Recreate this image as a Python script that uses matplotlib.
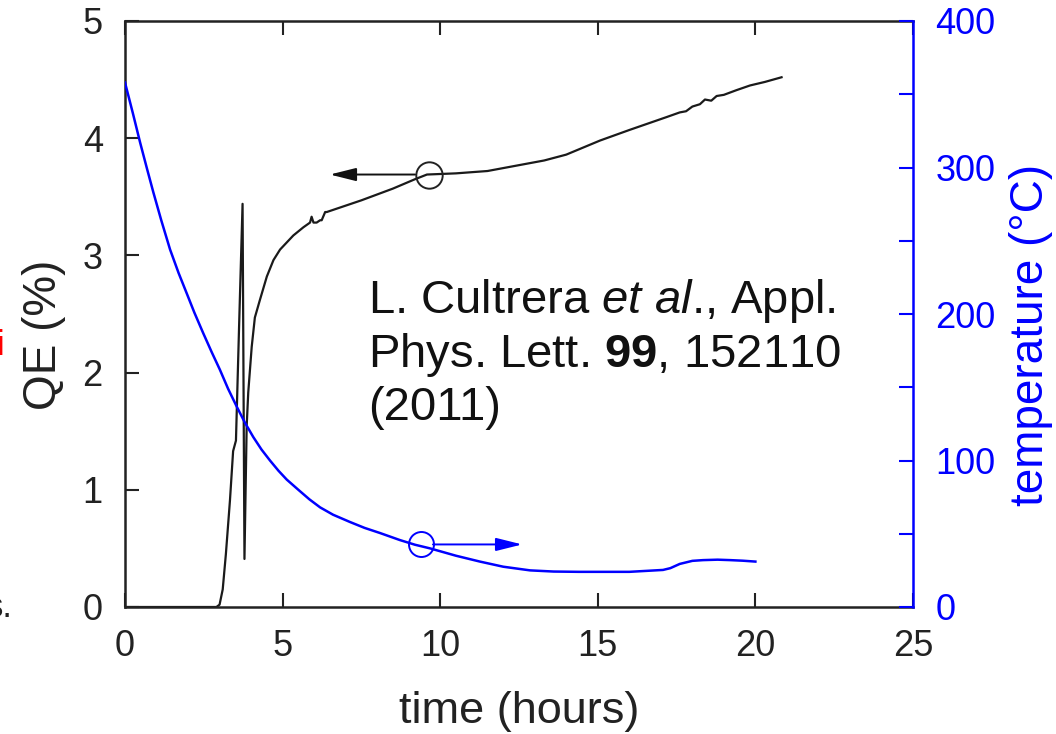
import matplotlib
matplotlib.use("Agg")
import matplotlib.pyplot as plt

plt.rcParams['font.family'] = ['Liberation Sans', 'DejaVu Sans']
plt.rcParams['mathtext.fontset'] = 'custom'
plt.rcParams['mathtext.rm'] = 'Liberation Sans'
plt.rcParams['mathtext.it'] = 'Liberation Sans:italic'
plt.rcParams['mathtext.bf'] = 'Liberation Sans:bold'

# ---- data ----
time_qe = [0, 2.9, 3.0, 3.1, 3.2, 3.33, 3.43, 3.47, 3.52, 3.62, 3.73, 3.79,
           3.86, 3.91, 4.02, 4.12, 4.28, 4.5, 4.71, 4.92, 5.13, 5.34, 5.66, 5.87,
           5.92, 5.98, 6.08, 6.19, 6.24, 6.35, 6.4, 7.5, 8.5, 9.2, 9.58, 10.5,
           11.5, 12.5, 13.3, 14.0, 15.07, 16.0, 17.18, 17.6, 17.8, 18.0, 18.24, 18.4,
           18.6, 18.77, 19.0, 19.4, 19.83, 20.3, 20.83]
qe_percent = [0, 0, 0.02, 0.15, 0.45, 0.91, 1.33, 1.37, 1.42, 2.40, 3.44, 0.41,
              1.54, 1.83, 2.22, 2.47, 2.62, 2.82, 2.96, 3.05, 3.11, 3.17, 3.24, 3.28,
              3.33, 3.28, 3.28, 3.30, 3.30, 3.37, 3.37, 3.47, 3.57, 3.65, 3.69, 3.70,
              3.72, 3.77, 3.81, 3.86, 3.98, 4.07, 4.18, 4.22, 4.23, 4.27, 4.29, 4.33,
              4.32, 4.36, 4.37, 4.41, 4.45, 4.48, 4.52]

time_temp = [0, 0.25, 0.48, 0.7, 0.9, 1.15, 1.43, 1.7, 1.96, 2.2, 2.48, 2.75,
             3.01, 3.27, 3.54, 3.8, 4.07, 4.33, 4.6, 4.87, 5.13, 5.5, 5.85,
             6.19, 6.6, 7.14, 7.6, 8.09, 8.72, 9.2, 9.68, 10.5, 11.26, 12.0,
             12.85, 13.6, 14.4, 16.0, 17.07, 17.3, 17.6, 18.0, 18.34, 18.8,
             19.2, 19.6, 20.0]
temp_c = [358, 337, 317, 299, 283, 264, 244, 228, 214, 201, 187, 174,
          162, 149, 137, 126, 116, 107.5, 100, 93, 87, 80, 73.5,
          68, 63, 58, 54, 50.5, 45.7, 42.5, 40, 35, 31, 27.5,
          25, 24.2, 24, 24, 25.3, 26.5, 29.4, 31.5, 32, 32.3,
          32, 31.6, 31]

x_ticks = [0, 5, 10, 15, 20, 25]
qe_ticks = [0, 1, 2, 3, 4, 5]
temp_ticks = [0, 100, 200, 300, 400]
temp_minor = [50, 150, 250, 350]

BLUE = '#0000ff'
DARK = '#222222'

fig = plt.figure(figsize=(10.56, 7.34), dpi=100)
ax = fig.add_axes([125/1056, 1-607/734, 788/1056, 586/734])
ax2 = ax.twinx()

ax.plot(time_qe, qe_percent, color='#1a1a1a', lw=1.6)
ax2.plot(time_temp, temp_c, color=BLUE, lw=1.8)

ax.set_xlim(0, 25)
ax.set_ylim(0, 5)
ax2.set_ylim(0, 400)

ax.set_xticks(x_ticks)
ax.set_yticks(qe_ticks)
ax2.set_yticks(temp_ticks)
ax2.set_yticks(temp_minor, minor=True)

ax.tick_params(axis='x', direction='in', length=10, width=1.5, pad=16,
               labelsize=26, top=True, colors=DARK)
ax.tick_params(axis='y', direction='in', length=10, width=1.5, pad=16,
               labelsize=26, right=False, colors=DARK)
ax2.tick_params(axis='y', which='both', direction='in', length=10, width=1.5,
                pad=16, labelsize=26, colors=BLUE)
ax2.tick_params(axis='y', which='minor', labelright=False)

for s in ['left', 'top', 'bottom']:
    ax.spines[s].set_linewidth(1.8)
    ax.spines[s].set_color(DARK)
ax2.spines['right'].set_color(BLUE)
ax2.spines['right'].set_linewidth(1.8)
ax2.spines['left'].set_visible(False)
ax2.spines['top'].set_visible(False)
ax2.spines['bottom'].set_visible(False)
ax.spines['right'].set_visible(False)

ax.set_xlabel('time (hours)', fontsize=32.5, labelpad=19, color=DARK)
ax.set_ylabel('QE (%)', fontsize=33, labelpad=12, color=DARK)
ax2.set_ylabel('temperature (\u00b0C)', fontsize=33, labelpad=10, color=BLUE)
ax.yaxis.label.set_y(0.465)
ax2.yaxis.label.set_y(0.465)

# annotation circles and arrows
ax.plot([9.63], [3.69], marker='o', ms=19, mfc='none', mec=DARK, mew=1.4)
ax.annotate('', xy=(6.5, 3.69), xytext=(9.2, 3.69),
            arrowprops=dict(arrowstyle='-|>,head_length=0.8,head_width=0.2',
                            mutation_scale=20, color='#111111', lw=1.4,
                            shrinkA=0, shrinkB=0))
ax2.plot([9.39], [42.7], marker='o', ms=18, mfc='none', mec=BLUE, mew=1.4)
ax2.annotate('', xy=(12.6, 42.7), xytext=(9.77, 42.7),
             arrowprops=dict(arrowstyle='-|>,head_length=0.8,head_width=0.2',
                             mutation_scale=20, color=BLUE, lw=1.4,
                             shrinkA=0, shrinkB=0))

# citation text
lines = [r'L. Cultrera $\mathit{et\ al}$., Appl.',
         r'Phys. Lett. $\mathbf{99}$, 152110',
         '(2011)']
baselines = [313, 367, 420]
for txt, yb in zip(lines, baselines):
    fig.text(368/1056, 1-yb/734, txt, fontsize=34, ha='left', va='baseline',
             color='#111111')

# fragments of slide text at the left edge (partly cut in the reference too)
fig.text(4/1056, 1-355/734, 'i', fontsize=25, color='red', ha='right', va='baseline')
fig.text(13/1056, 1-617/734, 's.', fontsize=25, color=DARK, ha='right', va='baseline')

fig.savefig('out.png', dpi=100)
